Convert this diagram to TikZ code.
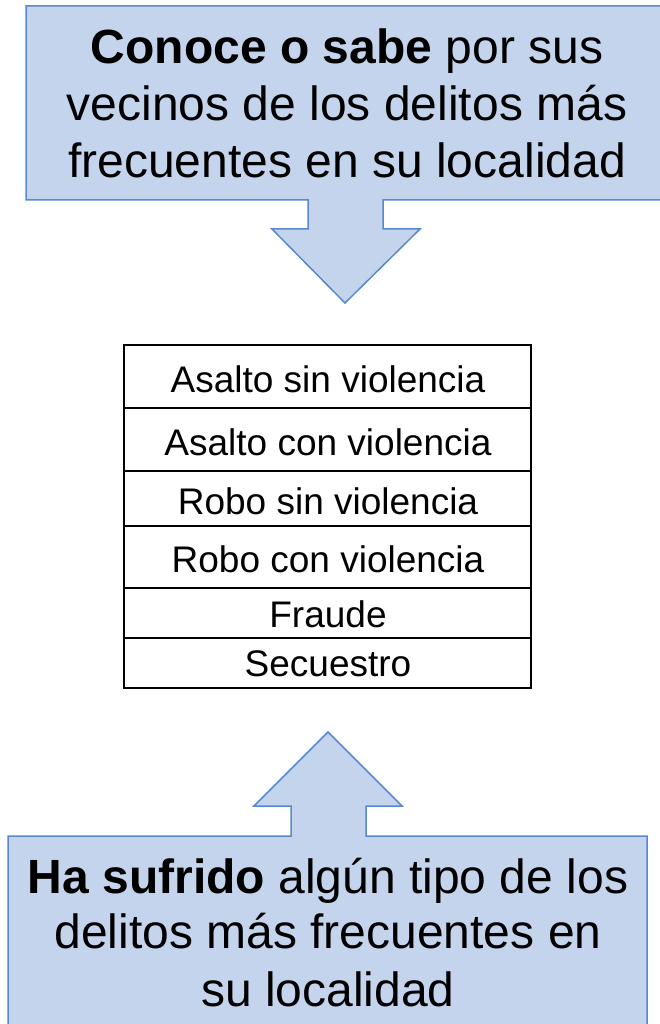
\documentclass[tikz,border=0pt]{standalone}
\usepackage{fontspec}
\setmainfont{Liberation Sans}
\definecolor{calfill}{RGB}{196,212,236}
\definecolor{caledge}{RGB}{88,136,206}
\tikzset{
  callout/.style={fill=calfill, draw=caledge, line width=1.5pt, line join=miter},
  bigtxt/.style={anchor=base, inner sep=0pt, font=\fontsize{48}{57}\selectfont},
  rowtxt/.style={anchor=base, inner sep=0pt, font=\fontsize{37}{40}\selectfont},
  tabline/.style={draw=black, line width=2pt}
}
\begin{document}
\begin{tikzpicture}[x=1pt, y=-1pt]
\useasboundingbox (0,0) rectangle (659,1024);
% top callout
\draw[callout] (26,6) -- (670,6) -- (670,200) -- (383,200) -- (383,229) -- (420,229)
  -- (345,303) -- (272,229) -- (308,229) -- (308,200) -- (26,200) -- cycle;
\node[bigtxt] (t1) at (347,64) {\textbf{Conoce o sabe} por sus};
\node[bigtxt] (t2) at (347,121) {vecinos de los delitos más};
\node[bigtxt] (t3) at (347,178) {frecuentes en su localidad};
% table
\coordinate (tl) at (124,345);
\coordinate (br) at (531,688);
\draw[tabline] (tl) rectangle (br);
\foreach \yy in {408,471,526,588,638} {
  \draw[tabline] (124,\yy) -- (531,\yy);
}
\node[rowtxt] (r1) at (328,392.7) {Asalto sin violencia};
\node[rowtxt] (r2) at (328,455) {Asalto con violencia};
\node[rowtxt] (r3) at (328,514.3) {Robo sin violencia};
\node[rowtxt] (r4) at (328,572.3) {Robo con violencia};
\node[rowtxt] (r5) at (328,627.7) {Fraude};
\node[rowtxt] (r6) at (328,676.7) {Secuestro};
% bottom callout
\draw[callout] (8,836) -- (291,836) -- (291,806) -- (254,806) -- (328,732) -- (402,806)
  -- (366,806) -- (366,836) -- (647,836) -- (647,1040) -- (8,1040) -- cycle;
\node[bigtxt] (b1) at (328,893) {\textbf{Ha sufrido} algún tipo de los};
\node[bigtxt] (b2) at (328,948) {delitos más frecuentes en};
\node[bigtxt] (b3) at (328,1006.5) {su localidad};
\end{tikzpicture}
\end{document}
